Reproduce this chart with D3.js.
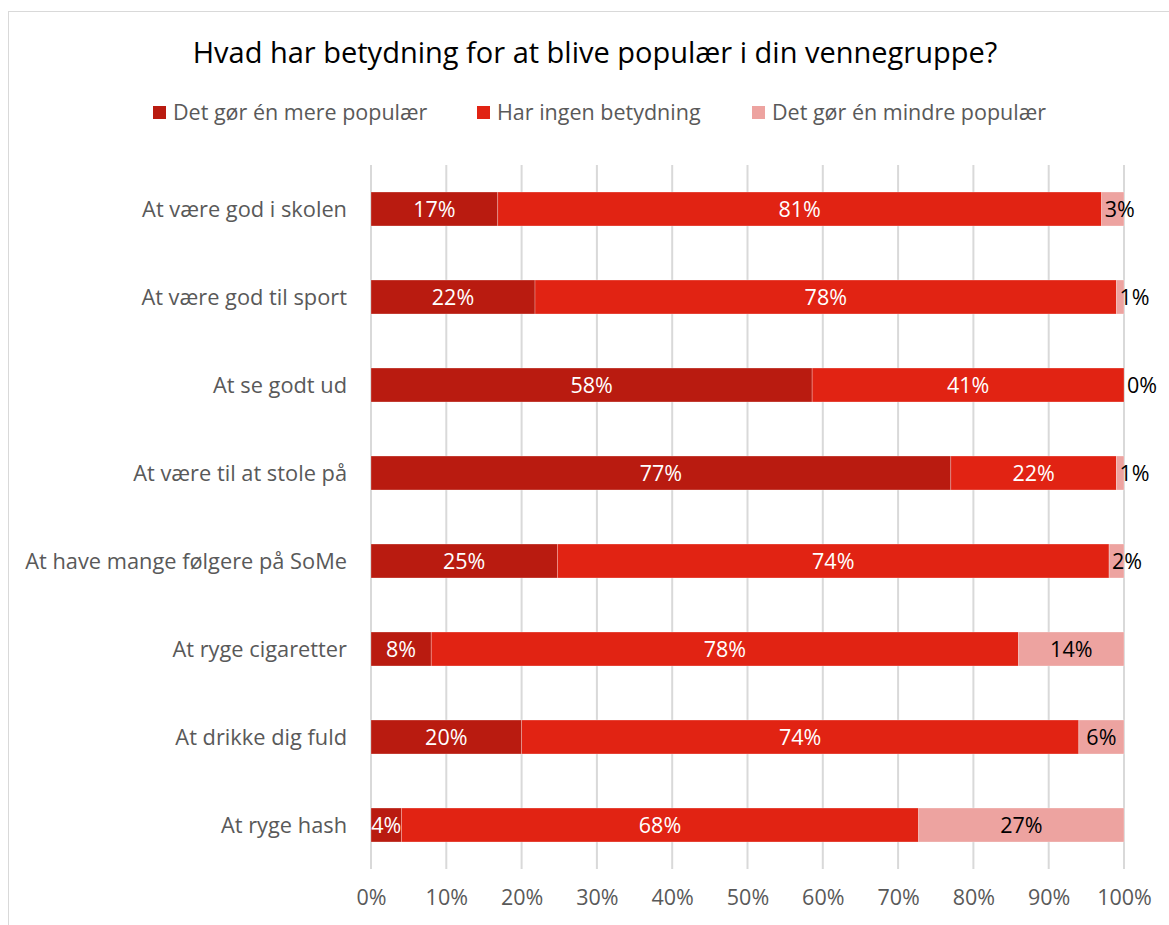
<!DOCTYPE html>
<html>
<head>
<meta charset="utf-8">
<script src="https://cdn.jsdelivr.net/npm/d3@7"></script>
<style>
  body { margin: 0; background: #fff; }
  text { font-family: "Open Sans", "Liberation Sans", Arial, sans-serif; }
</style>
</head>
<body>
<script>
// data
var kategorier = ["At være god i skolen", "At være god til sport", "At se godt ud ",
                  "At være til at stole på", "At have mange følgere på SoMe",
                  "At ryge cigaretter", "At drikke dig fuld", "At ryge hash"];
var serier = ["Det gør én mere populær", "Har ingen betydning", "Det gør én mindre populær"];
var mere    = [17, 22, 58, 77, 25,  8, 20,  4];
var ingen   = [81, 78, 41, 22, 74, 78, 74, 68];
var mindre  = [ 3,  1,  0,  1,  2, 14,  6, 27];
var ticks   = [0, 0.1, 0.2, 0.3, 0.4, 0.5, 0.6, 0.7, 0.8, 0.9, 1];

var farver = ["#B91B10", "#E12313", "#EDA3A0"];
var tekstFarver = ["#ffffff", "#ffffff", "#000000"];

var bredde = 1169, hoejde = 925;
var skrift = "21.5px";

var svg = d3.select("body").append("svg")
            .attr("width", bredde)
            .attr("height", hoejde);

// ramme
svg.append("rect")
   .attr("x", 8.5).attr("y", 11.5)
   .attr("width", bredde + 20).attr("height", hoejde + 20)
   .style("fill", "#fff")
   .style("stroke", "#d9d9d9")
   .style("stroke-width", 1);

// titel
svg.append("text")
   .attr("x", 595).attr("y", 63)
   .attr("text-anchor", "middle")
   .style("font-size", "29px")
   .style("fill", "#000")
   .text("Hvad har betydning for at blive populær i din vennegruppe?");

// legende
var legendeX = [153, 477, 752];
serier.forEach(function(s, i) {
    svg.append("rect")
       .attr("x", legendeX[i]).attr("y", 106)
       .attr("width", 13).attr("height", 13)
       .style("fill", farver[i]);
    svg.append("text")
       .attr("x", legendeX[i] + 20).attr("y", 112.5)
       .attr("dy", "0.35em")
       .style("font-size", skrift)
       .style("fill", "#595959")
       .text(s);
});

var x = d3.scaleLinear().domain([0, 1]).range([371, 1124]);
var y = d3.scaleBand().domain(kategorier).range([165, 869])
          .paddingInner(0.614).paddingOuter(0.307);

// gitterlinjer
svg.selectAll("line.gitter")
   .data(ticks)
   .enter().append("line")
   .attr("class", "gitter")
   .attr("x1", function(d) { return x(d); })
   .attr("x2", function(d) { return x(d); })
   .attr("y1", 165).attr("y2", 869)
   .style("stroke", "#d9d9d9")
   .style("stroke-width", 2);

// x-akse tekster
var xAkse = svg.append("g")
   .attr("transform", "translate(0,869)")
   .call(d3.axisBottom(x).tickValues(ticks).tickFormat(d3.format(".0%")).tickSize(0).tickPadding(21));
xAkse.select(".domain").remove();
xAkse.selectAll("text")
     .style("font-size", skrift)
     .style("fill", "#595959")
     .style("font-family", "Open Sans, Liberation Sans, Arial, sans-serif");

// kategori tekster
svg.selectAll("text.kat")
   .data(kategorier)
   .enter().append("text")
   .attr("class", "kat")
   .attr("x", 347)
   .attr("y", function(d) { return y(d) + y.bandwidth() / 2; })
   .attr("dy", "0.35em")
   .attr("text-anchor", "end")
   .style("font-size", "21.8px")
   .style("fill", "#595959")
   .text(function(d) { return d; });

// stablede soejler
var tabel = kategorier.map(function(k, i) {
    return { kat: k, s0: mere[i], s1: ingen[i], s2: mindre[i] };
});
var stak = d3.stack().keys(["s0", "s1", "s2"]).offset(d3.stackOffsetExpand)(tabel);

stak.forEach(function(lag, i) {
    var g = svg.append("g");
    g.selectAll("rect")
     .data(lag)
     .enter().append("rect")
     .attr("x", function(d) { return x(d[0]); })
     .attr("y", function(d) { return y(d.data.kat); })
     .attr("width", function(d) { return x(d[1]) - x(d[0]); })
     .attr("height", y.bandwidth())
     .style("fill", farver[i])
     .style("stroke", "rgba(255,255,255,0.35)")
     .style("stroke-width", 0.75);

    g.selectAll("text")
     .data(lag)
     .enter().append("text")
     .each(function(d) {
         var vaerdi = d.data["s" + i];
         var w = x(d[1]) - x(d[0]);
         var t = d3.select(this)
                   .attr("y", y(d.data.kat) + y.bandwidth() / 2)
                   .attr("dy", "0.35em")
                   .style("font-size", skrift)
                   .style("fill", tekstFarver[i])
                   .text(vaerdi + "%");
         if (w < 30 && i == 2) {
             t.attr("x", x(d[0]) + 3).attr("text-anchor", "start");
         } else {
             t.attr("x", (x(d[0]) + x(d[1])) / 2).attr("text-anchor", "middle");
         }
     });
});
</script>
</body>
</html>
